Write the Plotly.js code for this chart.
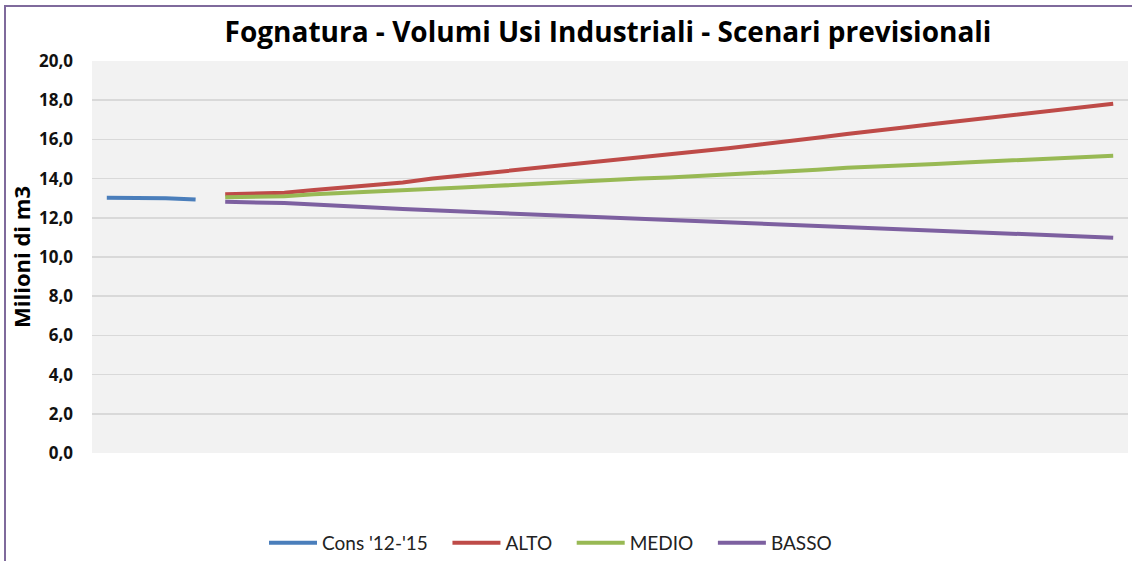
<!DOCTYPE html>
<html>
<head>
<meta charset="utf-8">
<script src="https://cdn.plot.ly/plotly-3.0.1.min.js"></script>
<style>
  html, body { margin: 0; padding: 0; background: #fff; overflow: hidden; }
  #chart { width: 1132px; height: 561px; }
  #frame { position: absolute; left: 4px; top: 5px; width: 1126px; height: 554px;
           border-left: 2px solid #7f6a9c; border-top: 2px solid #7f6a9c; pointer-events: none; }
</style>
</head>
<body>
<div id="chart"></div>
<div id="frame"></div>
<script>
// Years on the (hidden) category axis
const yearsCons = ['2012', '2013', '2014', '2015'];
const yearsScen = [];
for (let y = 2016; y <= 2046; y++) yearsScen.push(String(y));

const cons = [13.02, 13.02, 13.0, 12.93];

const alto = [13.2, 13.25, 13.28, 13.42, 13.55, 13.68, 13.8, 14.0, 14.15, 14.3,
              14.45, 14.6, 14.75, 14.9, 15.05, 15.25, 15.4, 15.55, 15.73, 15.88,
              16.08, 16.28, 16.43, 16.62, 16.8, 16.97, 17.13, 17.3, 17.47, 17.64, 17.82];

const medio = [13.05, 13.05, 13.1, 13.2, 13.28, 13.35, 13.42, 13.48, 13.55, 13.62,
               13.7, 13.8, 13.85, 13.92, 14.0, 14.05, 14.12, 14.2, 14.27, 14.35,
               14.45, 14.55, 14.6, 14.67, 14.74, 14.82, 14.9, 14.97, 15.05, 15.12, 15.17];

const basso = [12.82, 12.8, 12.75, 12.68, 12.62, 12.52, 12.45, 12.38, 12.32, 12.25,
               12.2, 12.13, 12.07, 12.0, 11.93, 11.87, 11.82, 11.76, 11.7, 11.64,
               11.58, 11.52, 11.46, 11.4, 11.34, 11.28, 11.22, 11.16, 11.1, 11.04, 10.98];

const seriesNames = ["Cons '12-'15", 'ALTO', 'MEDIO', 'BASSO'];

const allYears = yearsCons.concat(yearsScen);
const pad = '\u00A0\u00A0\u00A0';

const lw = 4;
const traces = [
  {x: yearsCons, y: cons, name: seriesNames[0] + pad, mode: 'lines', line: {color: '#4a7ebb', width: lw}},
  {x: yearsScen, y: alto, name: seriesNames[1] + pad, mode: 'lines', line: {color: '#be4b48', width: lw}},
  {x: yearsScen, y: medio, name: seriesNames[2] + pad, mode: 'lines', line: {color: '#98b954', width: lw}},
  {x: yearsScen, y: basso, name: seriesNames[3], mode: 'lines', line: {color: '#7d60a0', width: lw}}
];

const font = '"Open Sans", Lato, sans-serif';

const layout = {
  width: 1132, height: 561,
  paper_bgcolor: '#ffffff',
  plot_bgcolor: '#f2f2f2',
  margin: {l: 92, r: 4, t: 61, b: 108},
  separators: ',.',
  title: {
    text: '<b>Fognatura - Volumi Usi Industriali - Scenari previsionali</b>',
    font: {family: font, size: 28, color: '#000'},
    x: 608/1132, xanchor: 'center', xref: 'container',
    y: 1 - 32/561, yanchor: 'middle', yref: 'container'
  },
  xaxis: {
    type: 'category',
    categoryorder: 'array', categoryarray: allYears,
    range: [-0.5, allYears.length - 0.5],
    showticklabels: false, showgrid: false, zeroline: false,
    showline: false, ticks: ''
  },
  yaxis: {
    range: [0, 20], dtick: 2, tickformat: '.1f',
    showgrid: true, gridcolor: '#d9d9d9', gridwidth: 1.5,
    zeroline: false, showline: false, ticks: '',
    tickfont: {family: font, size: 17, color: '#111', weight: 'bold'},
    ticklabelstandoff: 18,
    title: {text: '<b>Milioni di m3</b>',
            font: {family: font, size: 22, color: '#000'},
            standoff: 2}
  },
  showlegend: true,
  legend: {
    orientation: 'h', x: (264 - 92)/1036, xanchor: 'left',
    yref: 'container', y: 1 - 543/561, yanchor: 'middle',
    font: {family: 'Lato, "Open Sans", sans-serif', size: 19, color: '#222'},
    bgcolor: 'rgba(0,0,0,0)', itemwidth: 48, tracegroupgap: 0
  }
};

Plotly.newPlot('chart', traces, layout, {staticPlot: true, displayModeBar: false});
</script>
</body>
</html>
